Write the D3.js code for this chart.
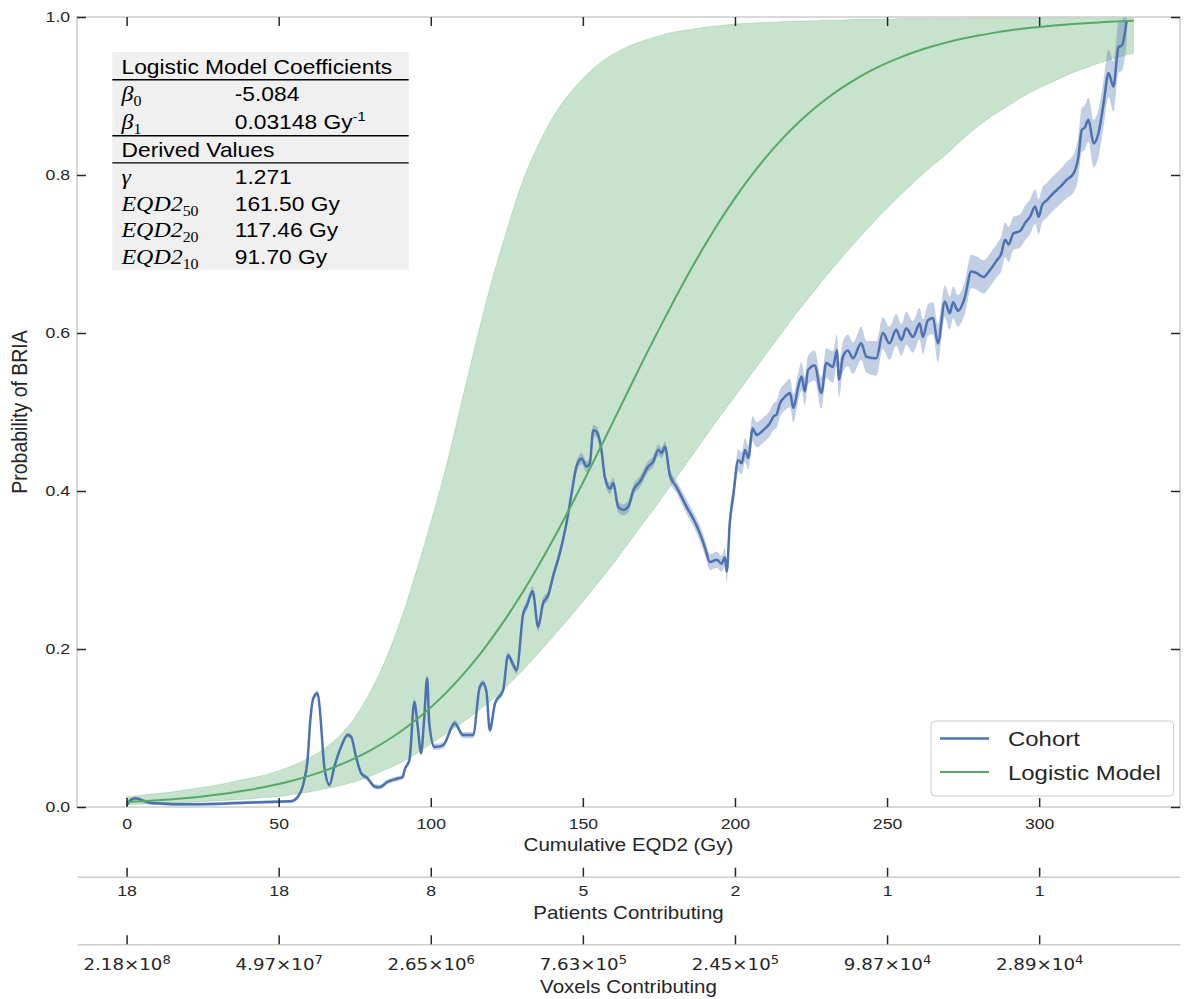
<!DOCTYPE html>
<html><head><meta charset="utf-8">
<script src="https://cdn.jsdelivr.net/npm/d3@7"></script>
<style>body{margin:0;background:#fff}svg{display:block}</style>
</head><body>
<svg id="c" width="1187" height="999"></svg>
<script>
// ---------------- DATA ----------------
const xTicks = [0, 50, 100, 150, 200, 250, 300];
const yTicks = [0, 0.2, 0.4, 0.6, 0.8, 1.0];
const patientsLabels = ["18", "18", "8", "5", "2", "1", "1"];
const voxelMantissa = ["2.18", "4.97", "2.65", "7.63", "2.45", "9.87", "2.89"];
const voxelExponent = ["8", "7", "6", "5", "5", "4", "4"];

const seriesNames = ["Cohort", "Logistic Model"];

const cohortDose = [
 0,1.4,3,4.2,5.8,8,10.2,16.8,22,27.6,
 33,38.7,44,49.7,54,56.3,58.4,59.5,60.4,61.2,
 62,62.8,63.5,64.2,65,66.7,68.3,70.5,72.7,73.8,
 75.4,77.1,79.3,81.5,83.1,85.9,89.1,90.8,91.4,93,
 94.6,95.7,96.8,97.8,98.8,99.5,101.2,104,107.9,110.6,
 113.9,116.1,117.2,118.3,119.4,121.1,123.8,125.4,127.1,128.2,
 130.4,131.5,133.5,135.3,136.9,138.6,140.2,142.4,144.6,146.3,
 147.9,149.6,151.2,152.3,153.4,154.5,156.1,157.2,158.9,160,
 161.6,163.3,164.9,166.6,168.8,171.5,173.1,174.8,175.9,177,
 178.6,180.8,184.1,186.8,188.5,190.1,191.8,194,195.6,196.7,
 197.3,198.3,199.4,201.1,202.2,203.3,204.4,205.8,207.1,209.3,
 211.5,212.6,213.7,214.8,216.4,218.1,219.2,220.8,221.9,223,
 224,226.2,228.4,230,232.2,233.5,234.2,235.5,237.1,238.8,
 241.5,243.2,246.5,248.6,250.8,253,254.7,256.3,258.5,260.7,
 261.8,263.4,265.1,266.7,269,270.6,271.7,273.3,275.5,277.7,
 279.3,281.7,283.9,286.1,287.5,288.8,290,291.5,293.7,295.5,
 297,298.7,299.8,301,302.5,304.7,306.9,309.1,311.3,312.9,
 314,315,316.2,317.9,319.5,321.2,322.8,324.4,326.1,327.2,
 328.8];
const cohortProb = [
 0.002,0.009,0.011,0.010,0.0076,0.005,0.0046,0.0034,0.0035,0.0038,
 0.0045,0.0055,0.006,0.0068,0.0072,0.013,0.034,0.06,0.11,0.135,
 0.142,0.144,0.125,0.09,0.051,0.028,0.051,0.076,0.091,0.089,
 0.064,0.043,0.036,0.026,0.025,0.032,0.036,0.038,0.047,0.06,
 0.133,0.102,0.068,0.11,0.163,0.106,0.076,0.078,0.106,0.091,
 0.091,0.152,0.157,0.146,0.097,0.131,0.148,0.192,0.18,0.173,
 0.245,0.254,0.273,0.228,0.258,0.268,0.292,0.321,0.359,0.397,
 0.431,0.441,0.431,0.435,0.477,0.475,0.452,0.418,0.403,0.41,
 0.38,0.376,0.38,0.401,0.412,0.431,0.437,0.452,0.448,0.456,
 0.42,0.405,0.38,0.361,0.346,0.329,0.31,0.313,0.308,0.316,
 0.298,0.36,0.393,0.439,0.435,0.452,0.442,0.479,0.471,0.477,
 0.486,0.494,0.497,0.511,0.519,0.524,0.505,0.532,0.545,0.526,
 0.553,0.559,0.524,0.562,0.557,0.578,0.541,0.57,0.578,0.568,
 0.587,0.57,0.568,0.6,0.587,0.604,0.591,0.606,0.595,0.612,
 0.595,0.616,0.619,0.587,0.64,0.625,0.639,0.628,0.644,0.678,
 0.676,0.671,0.68,0.692,0.70,0.718,0.712,0.726,0.729,0.74,
 0.747,0.76,0.747,0.762,0.768,0.777,0.785,0.794,0.802,0.823,
 0.857,0.86,0.87,0.84,0.853,0.891,0.929,0.912,0.962,0.964,
 0.996];
const cohortErr = [
 0.002,0.002,0.002,0.002,0.002,0.002,0.002,0.002,0.002,0.002,
 0.002,0.002,0.002,0.002,0.002,0.003,0.003,0.003,0.004,0.004,
 0.004,0.004,0.004,0.003,0.003,0.003,0.003,0.003,0.003,0.003,
 0.003,0.003,0.003,0.003,0.003,0.003,0.003,0.003,0.003,0.003,
 0.004,0.004,0.004,0.004,0.004,0.004,0.004,0.004,0.004,0.004,
 0.004,0.004,0.004,0.004,0.004,0.004,0.004,0.004,0.005,0.005,
 0.006,0.006,0.006,0.006,0.006,0.006,0.006,0.006,0.006,0.006,
 0.007,0.007,0.007,0.007,0.007,0.007,0.007,0.007,0.007,0.007,
 0.007,0.007,0.007,0.007,0.007,0.007,0.007,0.007,0.007,0.007,
 0.008,0.008,0.009,0.009,0.010,0.010,0.010,0.010,0.010,0.012,
 0.014,0.013,0.013,0.014,0.014,0.015,0.015,0.016,0.016,0.016,
 0.016,0.017,0.017,0.017,0.017,0.018,0.018,0.018,0.018,0.018,
 0.018,0.019,0.020,0.019,0.020,0.020,0.022,0.020,0.020,0.020,
 0.021,0.020,0.022,0.020,0.021,0.020,0.020,0.021,0.020,0.020,
 0.022,0.020,0.020,0.024,0.020,0.021,0.020,0.020,0.021,0.021,
 0.021,0.021,0.021,0.021,0.022,0.022,0.022,0.021,0.021,0.022,
 0.022,0.022,0.022,0.022,0.022,0.022,0.022,0.023,0.024,0.026,
 0.028,0.028,0.028,0.030,0.030,0.030,0.030,0.032,0.032,0.032,
 0.030];

const modelDose = [
 0,5,10,15,20,25,30,35,40,45,
 50,55,60,65,70,75,80,85,90,95,
 100,105,110,115,120,125,130,135,140,145,
 150,155,160,165,170,175,180,185,190,195,
 200,205,210,215,220,225,230,235,240,245,
 250,255,260,265,270,275,280,285,290,295,
 300,305,310,315,320,325,331];
const modelProb = [
 0.0062,0.0072,0.0084,0.0098,0.0115,0.0134,0.0157,0.0183,0.0214,0.0249,
 0.0290,0.0338,0.0394,0.0457,0.0532,0.0616,0.0714,0.0826,0.0953,0.1098,
 0.1261,0.1445,0.1651,0.1878,0.2132,0.2407,0.2705,0.3028,0.3369,0.3730,
 0.4105,0.4490,0.4882,0.5275,0.5666,0.6046,0.6415,0.6770,0.7103,0.7418,
 0.7707,0.7973,0.8216,0.8435,0.8632,0.8807,0.8962,0.9100,0.9221,0.9327,
 0.9419,0.9499,0.9569,0.9630,0.9682,0.9727,0.9766,0.9799,0.9828,0.9853,
 0.9874,0.9892,0.9908,0.9921,0.9932,0.9942,0.9952];
const modelUpper = [
 0.013,0.015,0.017,0.019,0.022,0.025,0.028,0.032,0.036,0.040,
 0.046,0.053,0.062,0.074,0.090,0.113,0.145,0.185,0.235,0.295,
 0.36,0.43,0.51,0.59,0.665,0.73,0.79,0.835,0.872,0.90,
 0.922,0.94,0.953,0.963,0.970,0.976,0.981,0.984,0.987,0.989,
 0.991,0.992,0.993,0.994,0.995,0.995,0.996,0.996,0.997,0.997,
 0.997,0.998,0.998,0.998,0.998,0.998,0.999,0.999,0.999,0.999,
 0.999,0.999,0.999,0.999,0.999,0.999,0.999];
const modelLower = [
 0.003,0.0035,0.004,0.005,0.006,0.007,0.008,0.009,0.010,0.012,
 0.013,0.016,0.019,0.023,0.027,0.032,0.039,0.047,0.056,0.067,
 0.08,0.093,0.106,0.12,0.135,0.153,0.172,0.193,0.215,0.237,
 0.26,0.284,0.308,0.334,0.36,0.386,0.413,0.44,0.467,0.494,
 0.52,0.546,0.572,0.598,0.624,0.648,0.672,0.695,0.717,0.738,
 0.758,0.777,0.795,0.812,0.828,0.846,0.862,0.876,0.888,0.90,
 0.91,0.919,0.928,0.935,0.942,0.948,0.954];

const tableTitle1 = "Logistic Model Coefficients";
const coefSymbols = ["β", "β"];
const coefSubs = ["0", "1"];
const coefValues = ["-5.084", "0.03148 Gy"];
const coefSups = ["", "-1"];
const tableTitle2 = "Derived Values";
const derivedSymbols = ["γ", "EQD2", "EQD2", "EQD2"];
const derivedSubs = ["", "50", "20", "10"];
const derivedValues = ["1.271", "161.50 Gy", "117.46 Gy", "91.70 Gy"];

// ---------------- LAYOUT ----------------
const SX = 1.14;
const SANS = "'Liberation Sans', Arial, sans-serif";
const SERIF = "'Liberation Serif', 'Times New Roman', serif";
const TXT = "#262626";
const BLUE = "#4c72b0", GREEN = "#55a868", SPINE = "#cccccc";
const P = {left: 77, right: 1180, top: 17, bottom: 807};

const svg = d3.select("#c");
const x = d3.scaleLinear().domain([-16.3, 346.3]).range([P.left, P.right]);
const y = d3.scaleLinear().domain([0, 1]).range([P.bottom, P.top]);

svg.append("defs").append("clipPath").attr("id", "clip")
  .append("rect").attr("x", P.left).attr("y", P.top)
  .attr("width", P.right - P.left).attr("height", P.bottom - P.top);

function stext(g, tx, ty, o) {
  return g.append("text")
    .attr("transform", `translate(${tx},${ty}) scale(${SX},1)` + (o.rotate ? ` rotate(${o.rotate})` : ""))
    .attr("font-family", o.family || SANS).attr("font-size", o.size || 15)
    .attr("font-style", o.style || "normal")
    .attr("fill", o.fill || TXT).attr("text-anchor", o.anchor || "start");
}

const plot = svg.append("g").attr("clip-path", "url(#clip)");

// model band
const mIdx = d3.range(modelDose.length);
plot.append("path").datum(mIdx)
  .attr("d", d3.area().x(i => x(modelDose[i])).y0(i => y(modelLower[i])).y1(i => y(modelUpper[i])).curve(d3.curveMonotoneX))
  .attr("fill", GREEN).attr("fill-opacity", 0.33)
  .attr("stroke", GREEN).attr("stroke-opacity", 0.25).attr("stroke-width", 1);

// cohort band + line
const cIdx = d3.range(cohortDose.length);
plot.append("path").datum(cIdx)
  .attr("d", d3.area().x(i => x(cohortDose[i])).y0(i => y(cohortProb[i] - cohortErr[i])).y1(i => y(cohortProb[i] + cohortErr[i])).curve(d3.curveMonotoneX))
  .attr("fill", BLUE).attr("fill-opacity", 0.35);
plot.append("path").datum(cIdx)
  .attr("d", d3.line().x(i => x(cohortDose[i])).y(i => y(cohortProb[i])).curve(d3.curveMonotoneX))
  .attr("fill", "none").attr("stroke", BLUE).attr("stroke-width", 2.5).attr("stroke-linejoin", "round");

// model line
plot.append("path").datum(mIdx)
  .attr("d", d3.line().x(i => x(modelDose[i])).y(i => y(modelProb[i])).curve(d3.curveMonotoneX))
  .attr("fill", "none").attr("stroke", GREEN).attr("stroke-width", 2);

// frame
svg.append("rect").attr("x", P.left).attr("y", P.top)
  .attr("width", P.right - P.left).attr("height", P.bottom - P.top)
  .attr("fill", "none").attr("stroke", SPINE).attr("stroke-width", 1.5);

const TICKFS = 15.5;
function styleTicks(g) {
  g.selectAll(".tick line").attr("stroke", TXT).attr("stroke-width", 1.5);
  g.selectAll(".tick text").attr("font-family", SANS).attr("font-size", TICKFS).attr("fill", TXT);
}

// bottom axis
const gx = svg.append("g").attr("transform", `translate(0,${P.bottom})`)
  .call(d3.axisBottom(x).tickValues(xTicks).tickSizeInner(-9).tickSizeOuter(0).tickPadding(11).tickFormat(d3.format("d")));
gx.select(".domain").remove(); styleTicks(gx);
gx.selectAll(".tick text").attr("transform", `scale(${SX},1)`);
// top axis
const gt = svg.append("g").attr("transform", `translate(0,${P.top})`)
  .call(d3.axisTop(x).tickValues(xTicks).tickSizeInner(-9).tickSizeOuter(0).tickFormat(""));
gt.select(".domain").remove(); styleTicks(gt);
// left axis
const gy = svg.append("g").attr("transform", `translate(${P.left},0)`)
  .call(d3.axisLeft(y).tickValues(yTicks).tickSizeInner(-9).tickSizeOuter(0).tickPadding(6).tickFormat(d3.format(".1f")));
gy.select(".domain").remove(); styleTicks(gy);
gy.selectAll(".tick text").attr("transform", `scale(${SX},1)`);
// right axis
const gr = svg.append("g").attr("transform", `translate(${P.right},0)`)
  .call(d3.axisRight(y).tickValues(yTicks).tickSizeInner(-9).tickSizeOuter(0).tickFormat(""));
gr.select(".domain").remove(); styleTicks(gr);

// secondary axes
const gp = svg.append("g").attr("transform", "translate(0,876.7)")
  .call(d3.axisBottom(x).tickValues(xTicks).tickSizeInner(-9).tickSizeOuter(0).tickPadding(8.5).tickFormat((d, i) => patientsLabels[i]));
gp.select(".domain").attr("stroke", SPINE).attr("stroke-width", 1.5); styleTicks(gp);
gp.selectAll(".tick text").attr("transform", `scale(${SX},1)`);

const gv = svg.append("g").attr("transform", "translate(0,944.3)")
  .call(d3.axisBottom(x).tickValues(xTicks).tickSizeInner(-9).tickSizeOuter(0).tickPadding(14).tickFormat(""));
gv.select(".domain").attr("stroke", SPINE).attr("stroke-width", 1.5); styleTicks(gv);
gv.selectAll(".tick text").each(function(d, i) {
  const t = d3.select(this).text(null)
    .attr("font-family", "'DejaVu Sans', sans-serif").attr("font-size", 16)
    .attr("transform", `scale(${SX},1)`);
  t.append("tspan").text(voxelMantissa[i] + "×10");
  t.append("tspan").attr("dy", "-0.45em").attr("font-size", 11.5).text(voxelExponent[i]);
});

// axis titles
const cx = (P.left + P.right) / 2;
stext(svg, cx, 851, {size: 18, anchor: "middle"}).text("Cumulative EQD2 (Gy)");
stext(svg, cx, 919, {size: 18, anchor: "middle"}).text("Patients Contributing");
stext(svg, cx, 993, {size: 18, anchor: "middle"}).text("Voxels Contributing");
stext(svg, 27, (P.top + P.bottom) / 2, {size: 19.5, anchor: "middle", rotate: -90}).text("Probability of BRIA");

// table
const tb = svg.append("g");
tb.append("rect").attr("x", 112.3).attr("y", 52).attr("width", 296.4).attr("height", 218).attr("fill", "#f0f0f0");
[79.8, 135.7, 162.9].forEach(ly => tb.append("line").attr("x1", 112.3).attr("x2", 408.7)
  .attr("y1", ly).attr("y2", ly).attr("stroke", "#000").attr("stroke-width", 1.4));
const c1 = 121.5, c2 = 234.7, TS = 20;
stext(tb, c1, 73.7, {size: TS, fill: "#000"}).text(tableTitle1);
const coefRows = [101.3, 128.8];
coefSymbols.forEach((s, i) => {
  const t = stext(tb, c1, coefRows[i], {size: 21, family: SERIF, style: "italic", fill: "#000"});
  t.append("tspan").text(s);
  t.append("tspan").attr("dy", 5).attr("font-size", 14).attr("font-style", "normal").text(coefSubs[i]);
  const v = stext(tb, c2, coefRows[i], {size: TS, fill: "#000"});
  v.append("tspan").text(coefValues[i]);
  if (coefSups[i]) v.append("tspan").attr("dy", -8).attr("font-size", 13).text(coefSups[i]);
});
stext(tb, c1, 156.7, {size: TS, fill: "#000"}).text(tableTitle2);
const derRows = [184.4, 210.8, 237.2, 263.6];
derivedSymbols.forEach((s, i) => {
  const t = stext(tb, c1, derRows[i], {size: 21, family: SERIF, style: "italic", fill: "#000"});
  t.append("tspan").text(s);
  if (derivedSubs[i]) t.append("tspan").attr("dy", 5).attr("font-size", 14).attr("font-style", "normal").text(derivedSubs[i]);
  stext(tb, c2, derRows[i], {size: TS, fill: "#000"}).text(derivedValues[i]);
});

// legend
const lg = svg.append("g");
lg.append("rect").attr("x", 931).attr("y", 721).attr("width", 242.5).attr("height", 75).attr("rx", 4)
  .attr("fill", "#fff").attr("fill-opacity", 0.8).attr("stroke", SPINE).attr("stroke-width", 1);
const legendColors = [BLUE, GREEN], legendWidths = [2.5, 2], legendY = [738.6, 772];
seriesNames.forEach((n, i) => {
  lg.append("line").attr("x1", 940).attr("x2", 989).attr("y1", legendY[i]).attr("y2", legendY[i])
    .attr("stroke", legendColors[i]).attr("stroke-width", legendWidths[i]);
  stext(lg, 1008, legendY[i] + 7.8, {size: 21}).text(n);
});
</script>
</body></html>
